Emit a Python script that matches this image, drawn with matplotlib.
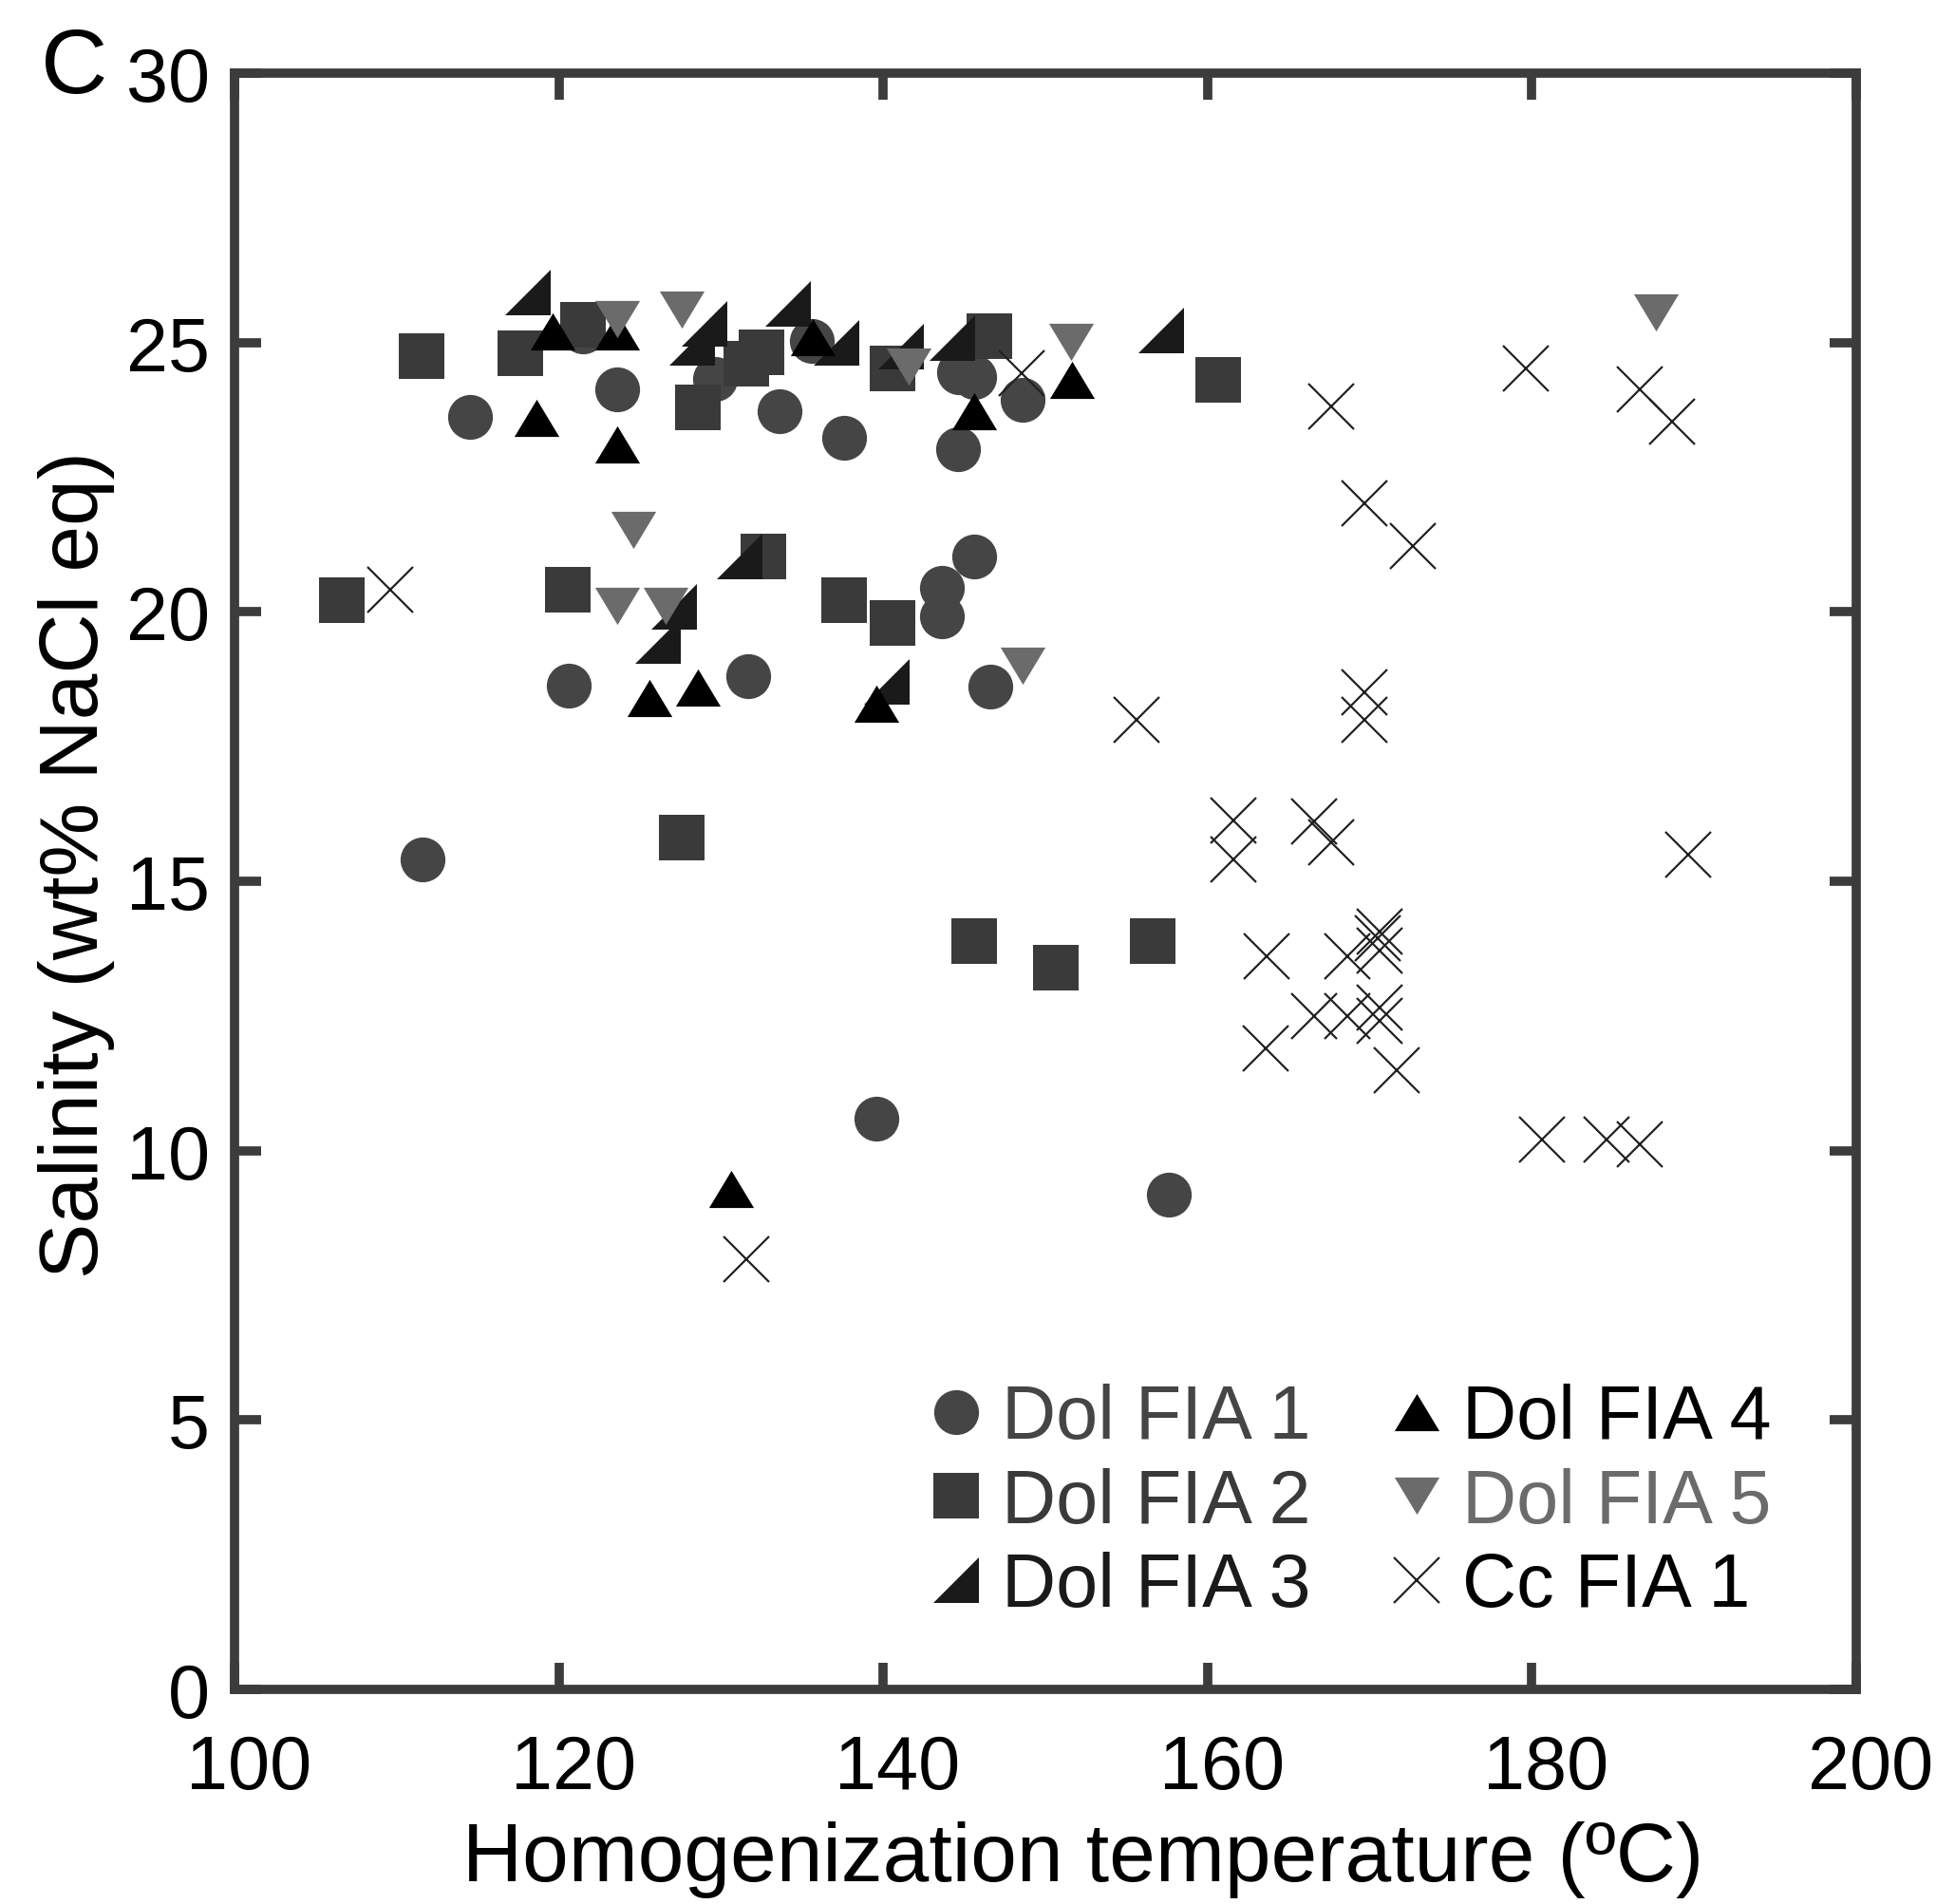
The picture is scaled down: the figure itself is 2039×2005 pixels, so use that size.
import matplotlib
matplotlib.use('Agg')
import matplotlib.pyplot as plt
from matplotlib.transforms import ScaledTranslation

plt.rcParams['font.family'] = ['Liberation Sans', 'DejaVu Sans']

# Dol FIA 1 (circles)
fia1_t = [111.6, 114.5, 120.6, 121.5, 123.6, 129.6, 131.65, 133.6, 135.6, 137.6,
          139.55, 143.6, 143.6, 144.6, 144.7, 145.6, 145.6, 146.6, 148.6, 157.6]
fia1_s = [15.41, 23.62, 18.63, 25.2, 24.13, 24.33, 18.8, 23.73, 25.03, 23.23,
          10.6, 20.45, 19.92, 23.02, 24.44, 24.36, 21.02, 18.62, 23.93, 9.18]

# Dol FIA 2 (squares)
fia2_t = [106.6, 111.55, 117.6, 121.5, 120.55, 127.6, 128.6, 131.56, 132.5, 132.6,
          137.6, 140.6, 140.6, 145.6, 146.57, 150.64, 156.6, 160.63]
fia2_s = [20.21, 24.74, 24.8, 25.33, 20.41, 15.81, 23.8, 24.6, 24.81, 21.02,
          20.21, 24.52, 19.8, 13.89, 25.12, 13.4, 13.89, 24.31]

# Dol FIA 3 (right triangles)
fia3_t = [118.1, 126.1, 127.1, 128.2, 129.0, 131.15, 134.13, 137.1, 140.24, 141.08,
          144.26, 157.14]
fia3_s = [25.92, 19.46, 20.1, 25.0, 25.34, 21.02, 25.72, 25.0, 18.7, 24.93,
          25.09, 25.22]

# Dol FIA 4 (triangles)
fia4_t = [118.6, 119.6, 123.6, 123.6, 125.6, 128.6, 130.6, 135.64, 139.6, 145.6, 151.66]
fia4_s = [23.6, 25.2, 25.2, 23.1, 18.41, 18.59, 9.29, 25.1, 18.29, 23.72, 24.31]

# Dol FIA 5 (down triangles)
fia5_t = [123.6, 124.6, 123.6, 126.6, 127.6, 141.56, 148.6, 151.6, 187.63]
fia5_s = [25.43, 21.52, 20.11, 20.11, 25.62, 24.55, 19.0, 25.02, 25.55]

# Cc FIA 1 (crosses)
cc_t = [109.6, 131.55, 148.56, 155.6, 161.6, 161.6, 163.63, 163.6, 166.56, 166.6,
        167.64, 167.64, 168.6, 168.6, 169.65, 169.65, 169.65, 170.6, 170.5, 170.6,
        170.6, 170.6, 171.66, 172.66, 179.63, 180.6, 184.6, 186.64, 186.64, 188.65,
        189.64]
cc_s = [20.42, 7.98, 24.43, 17.99, 16.13, 15.4, 13.6, 11.9, 16.11, 12.49,
        15.72, 23.81, 13.6, 12.49, 22.02, 18.5, 17.99, 14.07, 13.95, 13.72,
        12.66, 12.4, 11.49, 21.22, 24.52, 10.21, 10.21, 10.11, 24.13, 23.53,
        15.5]

labels = ['Dol FIA 1', 'Dol FIA 2', 'Dol FIA 3', 'Dol FIA 4', 'Dol FIA 5', 'Cc FIA 1']
colors = ['#454545', '#3a3a3a', '#1a1a1a', '#000000', '#6b6b6b', '#222222']
text_colors = ['#454545', '#3a3a3a', '#1a1a1a', '#000000', '#6b6b6b', '#000000']

tri_up = [(-1, -0.83), (1, -0.83), (0, 0.83)]
tri_dn = [(-1, 0.83), (1, 0.83), (0, -0.83)]
tri_rt = [(-1, -1), (1, -1), (1, 1)]

fig = plt.figure(figsize=(20.4, 20.06), dpi=100)
ax = fig.add_axes([0.1211, 0.1127, 0.8372, 0.8484])

series = [(fia1_t, fia1_s, 'o'), (fia2_t, fia2_s, 's'), (fia3_t, fia3_s, tri_rt),
          (fia4_t, fia4_s, tri_up), (fia5_t, fia5_s, tri_dn)]
handles = []
for i, (t, s, m) in enumerate(series):
    h, = ax.plot(t, s, linestyle='none', marker=m, markersize=34,
                 markerfacecolor=colors[i], markeredgewidth=0, label=labels[i])
    handles.append(h)
h, = ax.plot(cc_t, cc_s, linestyle='none', marker='x', markersize=34,
             markeredgecolor=colors[5], markeredgewidth=1.6, label=labels[5])
handles.append(h)

ax.set_xlim(100, 200)
ax.set_ylim(0, 30)
ax.set_xticks(range(100, 201, 20))
ax.set_yticks(range(0, 31, 5))

for sp in ax.spines.values():
    sp.set_linewidth(7)
    sp.set_color('#3c3c3c')
ax.tick_params(direction='in', length=20, width=7, color='#3c3c3c',
               top=True, right=True, labelsize=57)
ax.tick_params(axis='x', pad=33)
ax.tick_params(axis='y', pad=19)

# x tick labels sit a little right of their ticks in the original
shift = ScaledTranslation(0.15, 0, fig.dpi_scale_trans)
for lab in ax.get_xticklabels():
    lab.set_transform(lab.get_transform() + shift)

ax.set_xlabel('Homogenization temperature (ºC)', fontsize=63)
ax.xaxis.set_label_coords(0.523, -0.081)
ax.set_ylabel('Salinity (wt% NaCl eq)', fontsize=63)
ax.yaxis.set_label_coords(-0.074, 0.511)

fig.text(43 / 2040, 1 - 98 / 2006, 'C', fontsize=70, va='baseline', ha='left')

leg = ax.legend(handles=handles, ncol=2, loc='upper left',
                bbox_to_anchor=(0.4297, 0.1895), frameon=False, fontsize=57,
                handlelength=0.66, handletextpad=0.28, columnspacing=1.07,
                labelspacing=0.17, borderpad=0, borderaxespad=0,
                labelcolor=text_colors)

fig.savefig('out.png', dpi=100)
